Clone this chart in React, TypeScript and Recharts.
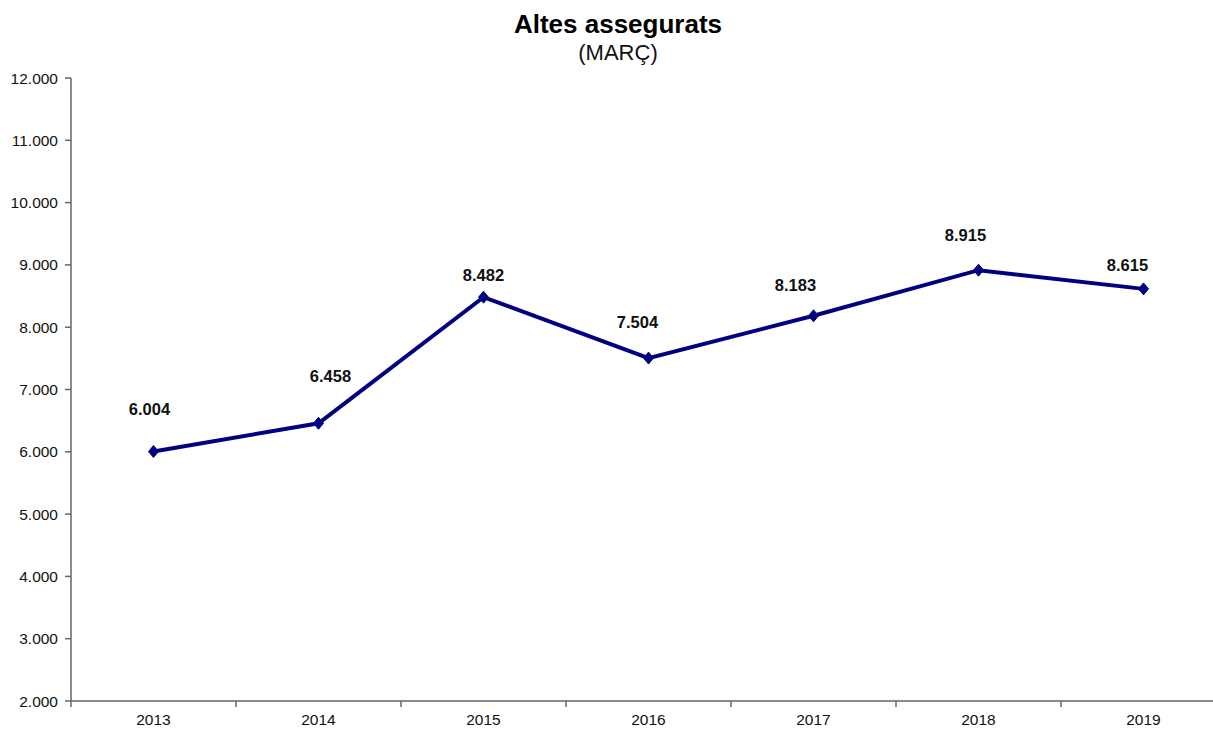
import React from "react";
import { LineChart, Line, XAxis, YAxis, LabelList } from "recharts";

// chart values
const years = ["2013", "2014", "2015", "2016", "2017", "2018", "2019"];
const altes = [6004, 6458, 8482, 7504, 8183, 8915, 8615];
const yTicks = [2000, 3000, 4000, 5000, 6000, 7000, 8000, 9000, 10000, 11000, 12000];

// label placement relative to each point (as in the original, labels were moved by hand)
const labelShift = [
  [-4, -43],
  [12, -47],
  [0, -22],
  [-11, -36],
  [-18, -31],
  [-13, -35],
  [-16, -24],
];

const data = years.map((year, i) => ({ year, altes: altes[i] }));

const CHART_W = 1226;
const CHART_H = 729;
const LEFT = 71;
const BAND = (CHART_W - LEFT) / years.length;
const NAVY = "#000080";
const FONT = "'Liberation Sans', Arial, sans-serif";

// 12000 -> "12.000"
const fmt = (v: number) => String(v).replace(/\B(?=(\d{3})+(?!\d))/g, ".");

const Diamond = (props: any) => {
  const { cx, cy } = props;
  if (cx == null || cy == null) return null;
  const r = 6;
  return (
    <path
      d={`M${cx},${cy - r} L${cx + r - 1},${cy} L${cx},${cy + r} L${cx - r + 1},${cy} Z`}
      fill={NAVY}
      stroke={NAVY}
    />
  );
};

// year label with the tick mark placed on the band boundary
const YearTick = (props: any) => {
  const { x, y, payload } = props;
  const bx = x - BAND / 2;
  return (
    <g>
      <line x1={bx} y1={y} x2={bx} y2={y + 6} stroke="#666" strokeWidth={1.5} />
      <text x={x} y={y + 24} textAnchor="middle" fontSize={15.5} fill="#111" fontFamily={FONT}>
        {payload.value}
      </text>
    </g>
  );
};

const PointLabel = (props: any) => {
  const { x, y, value, index } = props;
  const [dx, dy] = labelShift[index] || [0, -30];
  return (
    <text
      x={x + dx}
      y={y + dy}
      textAnchor="middle"
      dominantBaseline="central"
      fontSize={16.5}
      fontWeight="bold"
      fill="#111"
      fontFamily={FONT}
    >
      {fmt(value)}
    </text>
  );
};

export default function App() {
  return (
    <div
      style={{
        position: "absolute",
        left: 0,
        top: 0,
        width: 1213,
        height: 729,
        overflow: "hidden",
        background: "#fff",
        fontFamily: FONT,
      }}
    >
      <div
        style={{
          position: "absolute",
          left: 318,
          width: 600,
          top: 9,
          textAlign: "center",
          fontSize: 26,
          fontWeight: "bold",
          color: "#000",
          lineHeight: "30px",
        }}
      >
        Altes assegurats
      </div>
      <div
        style={{
          position: "absolute",
          left: 318,
          width: 600,
          top: 40,
          textAlign: "center",
          fontSize: 22,
          color: "#111",
          lineHeight: "26px",
        }}
      >
        (MARÇ)
      </div>
      <LineChart
        width={CHART_W}
        height={CHART_H}
        data={data}
        margin={{ top: 78, right: 0, left: 0, bottom: 0 }}
      >
        <XAxis
          dataKey="year"
          height={28}
          padding={{ left: BAND / 2, right: BAND / 2 }}
          axisLine={{ stroke: "#666", strokeWidth: 1.5 }}
          tickLine={false}
          tickSize={0}
          tickMargin={0}
          tick={<YearTick />}
          interval={0}
        />
        <YAxis
          width={LEFT}
          domain={[2000, 12000]}
          ticks={yTicks}
          interval={0}
          tickFormatter={fmt}
          axisLine={{ stroke: "#666", strokeWidth: 1.5 }}
          tickLine={{ stroke: "#666", strokeWidth: 1.5 }}
          tickSize={6}
          tickMargin={7}
          tick={{ fontSize: 15.5, fill: "#111", fontFamily: FONT }}
        />
        <Line
          type="linear"
          dataKey="altes"
          stroke={NAVY}
          strokeWidth={4}
          dot={<Diamond />}
          activeDot={false}
          isAnimationActive={false}
        >
          <LabelList dataKey="altes" content={<PointLabel />} />
        </Line>
      </LineChart>
    </div>
  );
}
